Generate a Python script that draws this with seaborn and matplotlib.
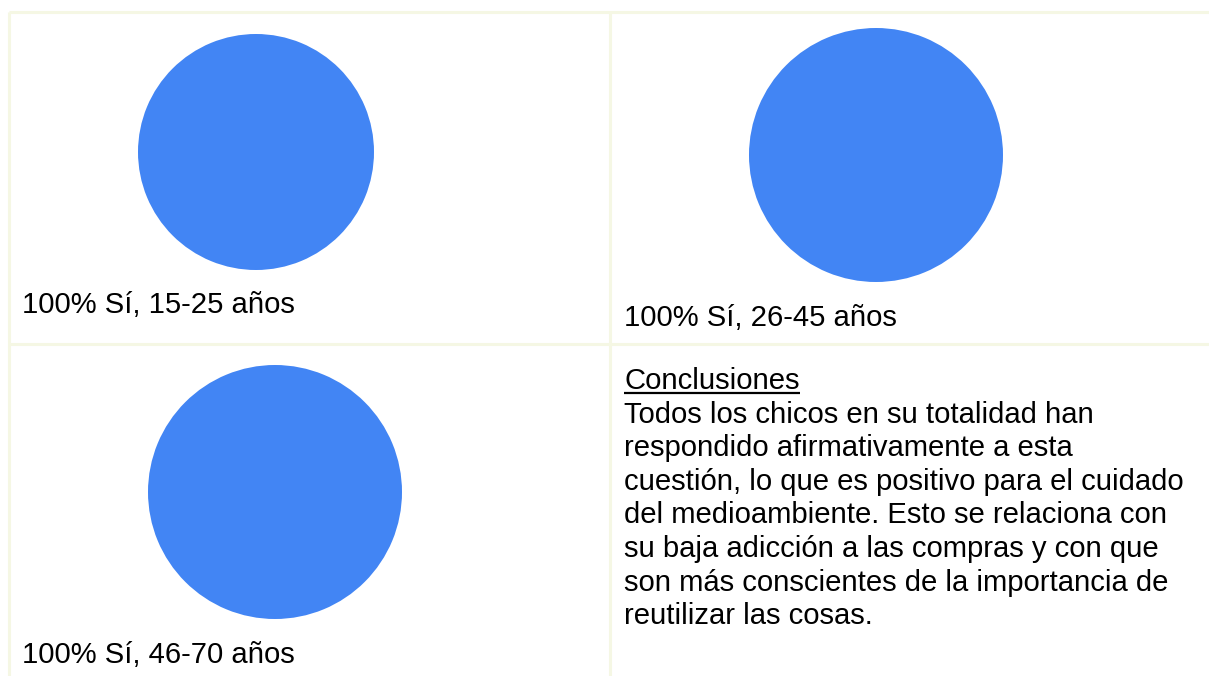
import matplotlib
matplotlib.use("Agg")
import matplotlib.pyplot as plt
import seaborn as sns

# ==========================
# Data
# ==========================
answers = ["Sí", "No"]
pct_15_25 = [100, 0]
pct_26_45 = [100, 0]
pct_46_70 = [100, 0]
labels = ["100% Sí, 15-25 años", "100% Sí, 26-45 años", "100% Sí, 46-70 años"]
conclusion_title = "Conclusiones"
conclusion_lines = [
    "Todos los chicos en su totalidad han",
    "respondido afirmativamente a esta",
    "cuestión, lo que es positivo para el cuidado",
    "del medioambiente. Esto se relaciona con",
    "su baja adicción a las compras y con que",
    "son más conscientes de la importancia de",
    "reutilizar las cosas.",
]

sns.set_theme(style="white")
plt.rcParams["font.family"] = ["Liberation Sans", "DejaVu Sans"]

W, H = 1209, 676
fig = plt.figure(figsize=(W / 100, H / 100), dpi=100)
fig.patch.set_facecolor("white")

# overlay in pixel coords (y down)
base = fig.add_axes([0, 0, 1, 1])
base.set_xlim(0, W)
base.set_ylim(H, 0)
base.axis("off")

grid_col = "#f5f7e4"
lw = 2.2
base.plot([8.5, W], [11.5, 11.5], color=grid_col, lw=lw, solid_capstyle="butt")
base.plot([8.5, 8.5], [11.5, H], color=grid_col, lw=lw, solid_capstyle="butt")
base.plot([610, 610], [11.5, H], color=grid_col, lw=lw, solid_capstyle="butt")
base.plot([8.5, W], [343.5, 343.5], color=grid_col, lw=lw, solid_capstyle="butt")

blue = sns.color_palette(["#4285f4", "#db4437"])


def pie_at(cx, cy, r, values):
    ax = fig.add_axes([(cx - r) / W, 1 - (cy + r) / H, 2 * r / W, 2 * r / H])
    ax.pie(values, colors=blue, startangle=90, counterclock=False,
           wedgeprops=dict(linewidth=0))
    ax.set_xlim(-1, 1)
    ax.set_ylim(-1, 1)
    ax.set_aspect("auto")
    ax.axis("off")


pie_at(256, 152, 118, pct_15_25)
pie_at(876, 155, 127, pct_26_45)
pie_at(275, 492, 127, pct_46_70)

fs = 21.05
base.text(22, 313, labels[0], fontsize=fs, color="black", va="baseline", ha="left")
base.text(624, 326, labels[1], fontsize=fs, color="black", va="baseline", ha="left")
base.text(22, 663, labels[2], fontsize=fs, color="black", va="baseline", ha="left")

t = base.text(624, 389, conclusion_title, fontsize=fs, color="black", va="baseline", ha="left")
step = 33.6
for i, line in enumerate(conclusion_lines):
    base.text(624, 389 + step * (i + 1), line, fontsize=fs, color="black",
              va="baseline", ha="left")

# underline for the title
fig.canvas.draw()
bb = t.get_window_extent()
base.plot([624, 624 + bb.width], [392.5, 392.5], color="black", lw=1.6,
          solid_capstyle="butt")

fig.savefig("out.png", dpi=100, facecolor="white")
